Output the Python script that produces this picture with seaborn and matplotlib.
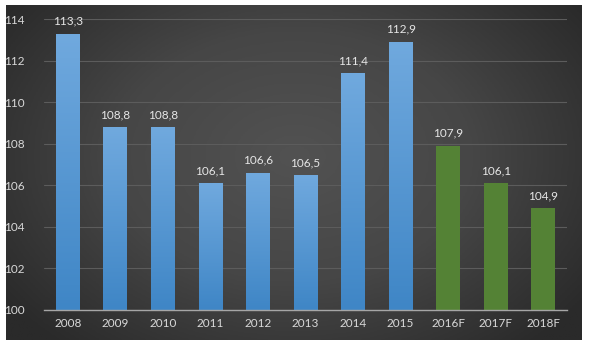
import numpy as np
import pandas as pd
import matplotlib
matplotlib.use("Agg")
import matplotlib.pyplot as plt
import seaborn as sns
from matplotlib.colors import LinearSegmentedColormap

categories = ["2008", "2009", "2010", "2011", "2012", "2013", "2014", "2015", "2016F", "2017F", "2018F"]
values = [113.3, 108.8, 108.8, 106.1, 106.6, 106.5, 111.4, 112.9, 107.9, 106.1, 104.9]
labels = ["113,3", "108,8", "108,8", "106,1", "106,6", "106,5", "111,4", "112,9", "107,9", "106,1", "104,9"]
yticks = [100, 102, 104, 106, 108, 110, 112, 114]

blue = "#5b9bd5"
green = "#548235"
colors = [blue] * 8 + [green] * 3

sns.set_theme(style="white")
plt.rcParams['font.family'] = ['Lato', 'DejaVu Sans']

fig = plt.figure(figsize=(5.9, 3.5), dpi=100)
fig.patch.set_facecolor("white")

# dark radial gradient background
bg = fig.add_axes([6/590, 10/350, 576/590, 335/350])
bg.set_axis_off()
ny, nx = 200, 340
yy, xx = np.mgrid[0:ny, 0:nx]
cx, cy = nx * 0.5, ny * 0.45
r = np.sqrt(((xx - cx) / (nx * 0.62)) ** 2 + ((yy - cy) / (ny * 0.75)) ** 2)
r = np.clip(r, 0, 1)
cmap_bg = LinearSegmentedColormap.from_list("bg", ["#525252", "#464646", "#2a2a2a"])
bg.imshow(r, cmap=cmap_bg, aspect="auto", extent=[0, 1, 0, 1], vmin=0, vmax=1)
bg.set_xlim(0, 1); bg.set_ylim(0, 1)

ax = fig.add_axes([44/590, 1 - 310/350, 523/590, (310 - 19)/350])
ax.patch.set_alpha(0)

df = pd.DataFrame({"cat": categories, "val": values})
sns.barplot(data=df, x="cat", y="val", hue="cat", palette=colors, legend=False,
            width=0.5, ax=ax, saturation=1, zorder=3, linewidth=0, edgecolor="none")
ax.set_ylim(100, 114)
ax.set_yticks(yticks)
ax.set_xlabel("")
ax.set_ylabel("")

# gradient fill on blue bars
grad = LinearSegmentedColormap.from_list("bl", ["#3f86c6", "#70a9de"])
gimg = np.linspace(0, 1, 100).reshape(-1, 1)
for p, c in zip(ax.patches, colors):
    if c == blue:
        x0, w = p.get_x(), p.get_width()
        y1 = p.get_height()
        im = ax.imshow(gimg, cmap=grad, aspect="auto", origin="lower",
                       extent=[x0, x0 + w, 100, y1], zorder=4)
        im.set_clip_path(p)
ax.set_xlim(-0.5, len(categories) - 0.5)
ax.set_ylim(100, 114)

for i, (v, t) in enumerate(zip(values, labels)):
    ax.annotate(t, (i, v), xytext=(0, 5), textcoords="offset points",
                ha="center", va="bottom", color="#e6e6e6", fontsize=8.5, zorder=6)

ax.yaxis.grid(True, color="#5c5c5c", linewidth=0.8, zorder=0)
ax.set_axisbelow(True)
for s in ["top", "right", "left"]:
    ax.spines[s].set_visible(False)
ax.spines["bottom"].set_color("#a6a6a6")
ax.spines["bottom"].set_linewidth(1.0)
ax.spines["bottom"].set_zorder(7)
ax.tick_params(axis="both", colors="#d9d9d9", labelsize=8.5, length=0)
ax.tick_params(axis="x", pad=6)
ax.tick_params(axis="y", pad=14)

fig.savefig("out.png", dpi=100, facecolor="white")
